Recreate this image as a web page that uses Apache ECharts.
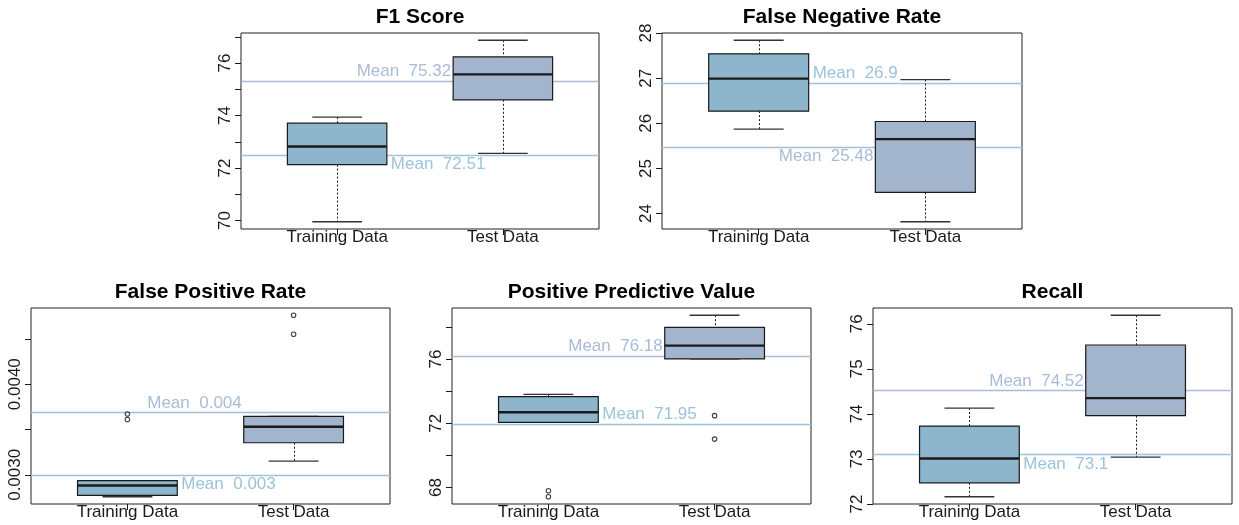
<!DOCTYPE html>
<html><head><meta charset="utf-8">
<script src="https://cdn.jsdelivr.net/npm/echarts@6/dist/echarts.min.js"></script>
<style>html,body{margin:0;padding:0;background:#fff}#c{width:1239px;height:525px}</style>
</head><body><div id="c"></div>
<script>
// ---------- data ----------
const categories = ["Training Data", "Test Data"];
const panelTitles = ["F1 Score", "False Negative Rate", "False Positive Rate", "Positive Predictive Value", "Recall"];
// [lower whisker, Q1, median, Q3, upper whisker]
const trainingBoxes = [
  [69.95, 72.13, 72.82, 73.71, 73.94],
  [25.87, 26.27, 26.99, 27.54, 27.84],
  [0.002758, 0.002772, 0.002882, 0.002935, 0.002935],
  [72.05, 72.05, 72.68, 73.65, 73.80],
  [72.16, 72.47, 73.01, 73.73, 74.13]
];
const testBoxes = [
  [72.56, 74.60, 75.57, 76.24, 76.87],
  [23.82, 24.47, 25.65, 26.04, 26.97],
  [0.003151, 0.003354, 0.003530, 0.003644, 0.003644],
  [76.00, 76.00, 76.83, 77.97, 78.72],
  [73.04, 73.96, 74.35, 75.53, 76.19]
];
const trainingOutliers = [[], [], [0.003610, 0.003672], [67.42, 67.79], []];
const testOutliers = [[], [], [0.004551, 0.004761], [71.01, 72.47], []];
const trainingMeans = [72.51, 26.90, 0.002996, 71.94, 73.10];
const testMeans = [75.32, 25.48, 0.003688, 76.18, 74.52];
const trainingMeanLabels = ["72.51", "26.9", "0.003", "71.95", "73.1"];
const testMeanLabels = ["75.32", "25.48", "0.004", "76.18", "74.52"];
const yTickValues = [
  [70, 71, 72, 73, 74, 75, 76, 77],
  [24, 25, 26, 27, 28],
  [0.0030, 0.0035, 0.0040, 0.0045],
  [68, 70, 72, 74, 76, 78],
  [72, 73, 74, 75, 76]
];
const yLabelValues = [
  [70, 72, 74, 76],
  [24, 25, 26, 27, 28],
  [0.0030, 0.0040],
  [68, 72, 76],
  [72, 73, 74, 75, 76]
];
const yLabelTexts = [
  ["70", "72", "74", "76"],
  ["24", "25", "26", "27", "28"],
  ["0.0030", "0.0040"],
  ["68", "72", "76"],
  ["72", "73", "74", "75", "76"]
];

// ---------- layout / style ----------
const grids = [
  {left: 241, top: 33, width: 358, height: 196},
  {left: 662, top: 33, width: 360, height: 196},
  {left: 31, top: 308, width: 359, height: 196},
  {left: 452, top: 308, width: 359, height: 196},
  {left: 873, top: 308, width: 359, height: 196}
];
const trainingLabelAbove = [false, true, false, true, false];
const testLabelAbove = [true, false, true, true, true];
const FONT = '"Liberation Sans", Arial, Helvetica, sans-serif';
const BOX_W = 0.6;
const XMIN = 0.42, XMAX = 2.58;
const fills = ['#8db6cc', '#a3b5cc'];
const meanColors = ['#9cc3da', '#a9bcd6'];
const INK = '#1a1a1a';

const chart = echarts.init(document.getElementById('c'), null, {renderer: 'canvas'});

const option = {
  animation: false,
  backgroundColor: '#fff',
  title: [], grid: [], xAxis: [], yAxis: [], series: []
};

panelTitles.forEach((t, i) => {
  const g = grids[i];
  option.title.push({
    text: t, left: g.left + g.width / 2, top: g.top - 26, textAlign: 'center', padding: 0,
    textStyle: {fontFamily: FONT, fontSize: 21, fontWeight: 'bold', color: '#000'}
  });
  option.grid.push({
    left: g.left, top: g.top, width: g.width, height: g.height,
    show: true, borderColor: '#222', borderWidth: 1, backgroundColor: 'transparent', containLabel: false
  });
  option.xAxis.push({
    gridIndex: i, type: 'value', min: XMIN, max: XMAX,
    axisLine: {show: false}, splitLine: {show: false},
    axisTick: {show: true, customValues: [1, 2], length: 6, lineStyle: {color: INK, width: 1}},
    axisLabel: {
      show: true, customValues: [1, 2], margin: 0,
      fontFamily: FONT, fontSize: 17, color: INK,
      formatter: v => categories[Math.round(v) - 1]
    }
  });
  const all = trainingBoxes[i].concat(testBoxes[i], trainingOutliers[i], testOutliers[i]);
  const lo = Math.min(...all), hi = Math.max(...all), r = hi - lo;
  option.yAxis.push({
    gridIndex: i, type: 'value', min: lo - 0.04 * r, max: hi + 0.04 * r,
    axisLine: {show: false}, splitLine: {show: false},
    axisTick: {show: true, customValues: yTickValues[i], length: 6, lineStyle: {color: INK, width: 1}},
    axisLabel: {
      show: true, customValues: yLabelValues[i], rotate: 90, margin: 7,
      fontFamily: FONT, fontSize: 17, color: INK,
      formatter: v => {
        const k = yLabelValues[i].findIndex(u => Math.abs(u - v) < 1e-9);
        return k >= 0 ? yLabelTexts[i][k] : '';
      }
    }
  });

  const means = [trainingMeans[i], testMeans[i]];
  // mean lines
  option.series.push({
    type: 'custom', xAxisIndex: i, yAxisIndex: i, z: 1, silent: true,
    encode: {x: 0, y: 1},
    data: means.map((m, k) => [k + 1, m]),
    renderItem: (params, api) => {
      const cs = params.coordSys;
      const y = Math.round(api.coord([1, api.value(1)])[1]) + 0.5;
      return {type: 'line', shape: {x1: cs.x, y1: y, x2: cs.x + cs.width, y2: y},
        style: {stroke: meanColors[params.dataIndex], lineWidth: 1.5}};
    }
  });
  // boxes
  const boxes = [trainingBoxes[i], testBoxes[i]];
  option.series.push({
    type: 'custom', xAxisIndex: i, yAxisIndex: i, z: 2, silent: true,
    encode: {x: 0, y: [1, 2, 3, 4, 5]},
    data: boxes.map((b, k) => [k + 1].concat(b)),
    renderItem: (params, api) => {
      const x = api.value(0);
      const vlo = api.value(1), q1 = api.value(2), md = api.value(3), q3 = api.value(4), vhi = api.value(5);
      const h = BOX_W / 2, c = BOX_W / 4;
      const tl = api.coord([x - h, q3]);
      const br = api.coord([x + h, q1]);
      const pc = api.coord([x, md]);
      const pLo = api.coord([x, vlo]);
      const pHi = api.coord([x, vhi]);
      const cL = api.coord([x - c, vlo])[0], cR = api.coord([x + c, vlo])[0];
      const cx = Math.round(pc[0]) + 0.5;
      const dash = {stroke: INK, lineWidth: 1, lineDash: [2, 2]};
      const solid = {stroke: '#333', lineWidth: 1.3};
      return {
        type: 'group',
        children: [
          {type: 'line', shape: {x1: cx, y1: pHi[1], x2: cx, y2: tl[1]}, style: dash},
          {type: 'line', shape: {x1: cx, y1: br[1], x2: cx, y2: pLo[1]}, style: dash},
          {type: 'line', shape: {x1: cL, y1: pHi[1], x2: cR, y2: pHi[1]}, style: solid},
          {type: 'line', shape: {x1: cL, y1: pLo[1], x2: cR, y2: pLo[1]}, style: solid},
          {type: 'rect', shape: {x: tl[0], y: tl[1], width: br[0] - tl[0], height: br[1] - tl[1]},
            style: {fill: fills[params.dataIndex], stroke: INK, lineWidth: 1.2}},
          {type: 'line', shape: {x1: tl[0], y1: pc[1], x2: br[0], y2: pc[1]}, style: {stroke: INK, lineWidth: 2.4}}
        ]
      };
    }
  });
  // outliers
  const outs = [];
  trainingOutliers[i].forEach(v => outs.push([1, v]));
  testOutliers[i].forEach(v => outs.push([2, v]));
  option.series.push({
    type: 'scatter', xAxisIndex: i, yAxisIndex: i, z: 3, silent: true,
    symbol: 'circle', symbolSize: 4.5,
    itemStyle: {color: 'rgba(255,255,255,0)', borderColor: '#111', borderWidth: 1.1},
    data: outs
  });
  // mean labels
  const texts = [trainingMeanLabels[i], testMeanLabels[i]];
  const above = [trainingLabelAbove[i], testLabelAbove[i]];
  option.series.push({
    type: 'custom', xAxisIndex: i, yAxisIndex: i, z: 4, silent: true,
    encode: {x: 0, y: 1},
    data: means.map((m, k) => [k + 1, m]),
    renderItem: (params, api) => {
      const k = params.dataIndex;
      const p = api.coord([k === 0 ? 1.3 : 1.7, api.value(1)]);
      return {
        type: 'text',
        x: p[0] + (k === 0 ? 4 : -2),
        y: p[1] + (above[k] ? -9.5 : 9.5),
        style: {
          text: 'Mean  ' + texts[k], fill: meanColors[k],
          font: '17px ' + FONT, align: k === 0 ? 'left' : 'right', verticalAlign: 'middle'
        }
      };
    }
  });
});

chart.setOption(option);
</script>
</body></html>
